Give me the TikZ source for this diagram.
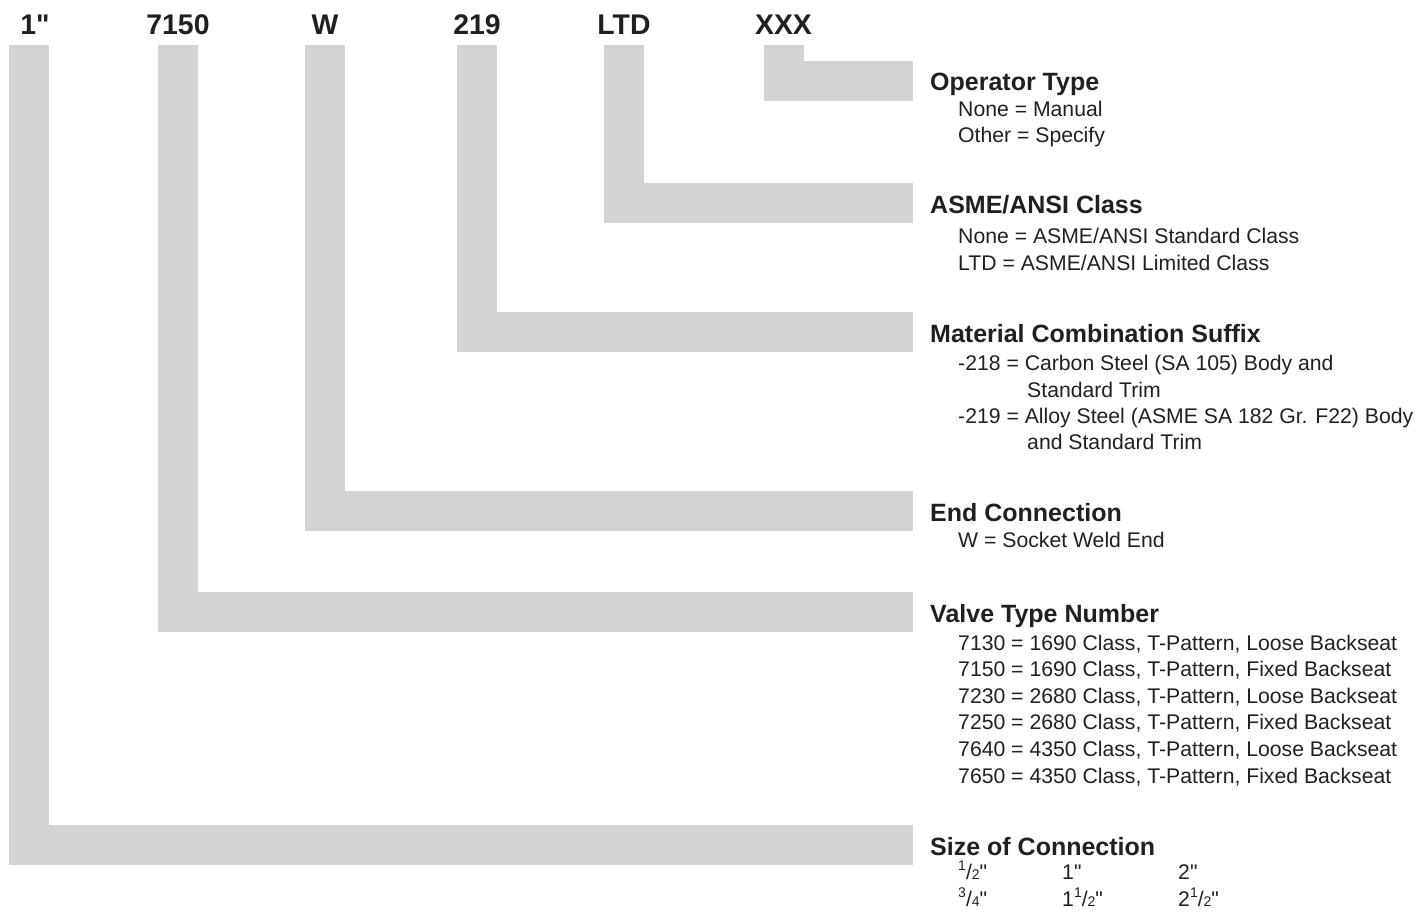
\documentclass[tikz,border=0pt]{standalone}
\usepackage{fontspec}
\setmainfont{Liberation Sans}[Ligatures=TeXOff]
\definecolor{BarGray}{HTML}{D1D3D4}
\definecolor{Ink}{HTML}{231F20}
\usetikzlibrary{positioning}
\newcommand{\inch}{\symbol{34}}
\newcommand{\szfrac}[2]{\raisebox{0.42em}{\fontsize{14}{14}\selectfont#1}/{\fontsize{14}{14}\selectfont#2}}

\begin{document}
\begin{tikzpicture}[x=1pt, y=-1pt,
   code/.style={anchor=base, font=\fontsize{28.4}{30}\selectfont\bfseries, text=Ink,
      inner xsep=0pt, inner ysep=10.5pt, text depth=0pt},
   head/.style={anchor=west, font=\fontsize{25}{28}\selectfont\bfseries, text=Ink,
      inner sep=0pt, text height=20pt, text depth=0pt},
   item/.style={anchor=base west, font=\fontsize{21.2}{26}\selectfont, text=Ink, inner sep=0pt},
   bar/.style={BarGray, line width=40pt, line cap=butt, line join=miter}]
            \useasboundingbox (0,0) rectangle (1420,912);
            % Model code
            \node[code] (size) at (35,34.5) {1\inch};
            \node[code] (type) at (178,34.5) {7150};
            \node[code] (ends) at (325,34.5) {W};
            \node[code] (matl) at (477,34.5) {219};
            \node[code] (cls) at (624,34.5) {LTD};
            \node[code] (oper) at (783.5,34.5) {XXX};
            % Headings
            \node[head] (operH) at (930,81) {Operator Type};
            \node[head] (clsH) at (930,203) {ASME/ANSI Class};
            \node[head] (matlH) at (930,332) {Material Combination Suffix};
            \node[head] (endsH) at (930,511) {End Connection};
            \node[head] (typeH) at (930,612) {Valve Type Number};
            \node[head] (sizeH) at (930,845) {Size of Connection};
            % Gray brackets
            \draw[bar] (oper.south) |- ([xshift=-17pt]operH.west);
            \draw[bar] (cls.south) |- ([xshift=-17pt]clsH.west);
            \draw[bar] (matl.south) |- ([xshift=-17pt]matlH.west);
            \draw[bar] (ends.south) |- ([xshift=-17pt]endsH.west);
            \draw[bar] (type.south) |- ([xshift=-17pt]typeH.west);
            \draw[bar] ([xshift=-6pt]size.south) |- ([xshift=-17pt]sizeH.west);
            % Options
            \node[item] (op1) at (958,117) {None = Manual};
            \node[item] (op2) at (958,143) {Other = Specify};
            \node[item] (cl1) at (958,243) {None = ASME/ANSI Standard Class};
            \node[item] (cl2) at (958,270) {LTD = ASME/ANSI Limited Class};
            \node[item] (mt1) at (958,370) {-218 = Carbon Steel (SA 105) Body and};
            \node[item] (mt2) at (1027,397) {Standard Trim};
            \node[item] (mt3) at (958,423) {-219 = Alloy Steel (ASME SA 182 Gr. F22) Body};
            \node[item] (mt4) at (1027,449) {and Standard Trim};
            \node[item] (en1) at (958,547) {W = Socket Weld End};
            \foreach \code/\cl/\bs [count=\i] in {7130/1690/Loose, 7150/1690/Fixed, 7230/2680/Loose,
                  7250/2680/Fixed, 7640/4350/Loose, 7650/4350/Fixed}
               \node[item] (vt\i) at (958,{623.5+26.6*\i}) {\code{} = \cl{} Class, T-Pattern, \bs{} Backseat};
            % Sizes
            \node[item] (sz1) at (958,879) {\szfrac{1}{2}\inch};
            \node[item] (sz2) at (958,906) {\szfrac{3}{4}\inch};
            \node[item] (sz3) at (1062,879) {1\inch};
            \node[item] (sz4) at (1062,906) {1\szfrac{1}{2}\inch};
            \node[item] (sz5) at (1178,879) {2\inch};
            \node[item] (sz6) at (1178,906) {2\szfrac{1}{2}\inch};
         \end{tikzpicture}
\end{document}
